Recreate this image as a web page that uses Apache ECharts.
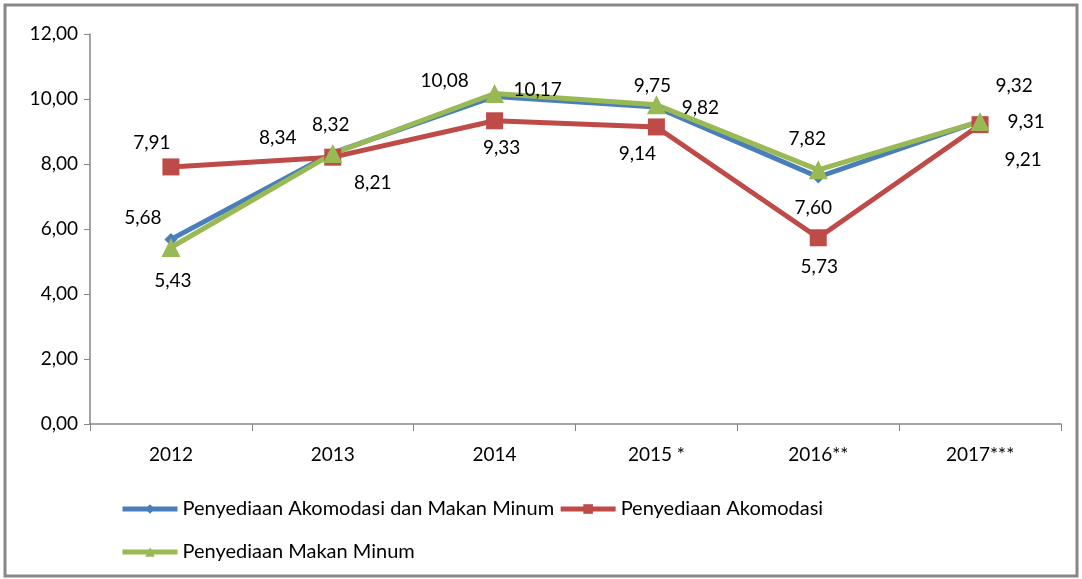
<!DOCTYPE html>
<html>
<head>
<meta charset="utf-8">
<script src="https://cdn.jsdelivr.net/npm/echarts@6/dist/echarts.min.js"></script>
<style>
html, body { margin: 0; padding: 0; background: #fff; }
#main { width: 1082px; height: 579px; }
</style>
</head>
<body>
<div id="main"></div>
<script>
var years = ['2012', '2013', '2014', '2015 *', '2016**', '2017***'];
var akomodasiMakanMinum = [5.68, 8.34, 10.08, 9.75, 7.60, 9.32];
var akomodasi = [7.91, 8.21, 9.33, 9.14, 5.73, 9.21];
var makanMinum = [5.43, 8.32, 10.17, 9.82, 7.82, 9.31];

// label offsets from each point, in px
var offBlue = [[-28, -22], [-55, -15], [-50, -16], [-4, -21], [-5, 31], [34, -35]];
var offRed = [[-19, -24], [40, 26], [7, 27], [-19, 27], [1, 29], [43, 35]];
var offGreen = [[2, 33], [-2, -29], [43, -4], [44, 3], [-11, -31], [46, 0]];

var font = 'Lato';
function koma(v) { return v.toFixed(2).replace('.', ','); }

function withLabels(values, offsets) {
	return values.map(function (v, i) {
		return { value: v, label: { offset: offsets[i] } };
	});
}

function makeSeries(name, values, offsets, color, symbol, size) {
	return {
		name: name,
		type: 'line',
		data: withLabels(values, offsets),
		symbol: symbol,
		symbolSize: size,
		color: color,
		lineStyle: { width: 5, color: color },
		itemStyle: { color: color },
		label: {
			show: true,
			position: 'inside',
			color: '#000',
			fontFamily: font,
			fontSize: 19,
			formatter: function (p) { return koma(p.value); }
		},
		emphasis: { disabled: true },
		animation: false
	};
}

var legendText = { fontFamily: font, fontSize: 20, color: '#000' };

var myChart = echarts.init(document.getElementById('main'));
var option = {
	animation: false,
	graphic: [{
		type: 'rect',
		shape: { x: 5, y: 5, width: 1072, height: 571 },
		style: { fill: null, stroke: '#888', lineWidth: 3 }
	}],
	grid: { left: 90, right: 21, top: 34, bottom: 155 },
	legend: [{
		data: ['Penyediaan Akomodasi dan Makan Minum', 'Penyediaan Akomodasi'],
		left: 115, top: 494,
		itemWidth: 55, itemHeight: 12, itemGap: 4,
		lineStyle: { width: 5 },
		textStyle: legendText
	}, {
		data: ['Penyediaan Makan Minum'],
		left: 115, top: 537,
		itemWidth: 55, itemHeight: 12,
		lineStyle: { width: 5 },
		textStyle: legendText
	}],
	xAxis: {
		type: 'category',
		data: years,
		boundaryGap: true,
		axisLine: { lineStyle: { color: '#868686', width: 1.5 } },
		axisTick: { show: true, length: 7, lineStyle: { color: '#868686' } },
		axisLabel: { color: '#000', fontFamily: font, fontSize: 19, margin: 21 },
		splitLine: { show: false }
	},
	yAxis: {
		type: 'value',
		min: 0, max: 12, interval: 2,
		axisLine: { show: true, lineStyle: { color: '#868686', width: 1.5 } },
		axisTick: { show: true, length: 6, lineStyle: { color: '#868686' } },
		axisLabel: { color: '#000', fontFamily: font, fontSize: 19, margin: 12, formatter: koma },
		splitLine: { show: false }
	},
	series: [
		makeSeries('Penyediaan Akomodasi dan Makan Minum', akomodasiMakanMinum, offBlue, '#4A7EBB', 'diamond', 13),
		makeSeries('Penyediaan Akomodasi', akomodasi, offRed, '#BE4B48', 'rect', 17),
		makeSeries('Penyediaan Makan Minum', makanMinum, offGreen, '#98B954', 'triangle', 19)
	]
};
myChart.setOption(option);
</script>
</body>
</html>
